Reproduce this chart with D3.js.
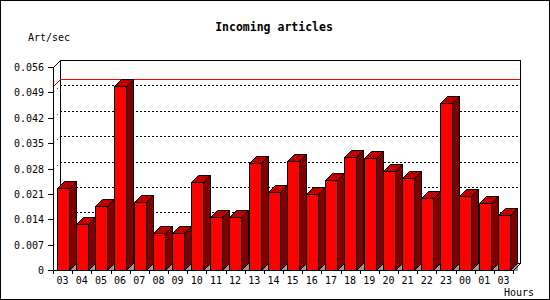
<!DOCTYPE html>
<html><head><meta charset="utf-8">
<script src="https://cdn.jsdelivr.net/npm/d3@7"></script>
<style>body{margin:0;background:#fff}svg{display:block}</style>
</head><body>
<script>
const categories = ["03","04","05","06","07","08","09","10","11","12","13","14","15","16","17","18","19","20","21","22","23","00","01","03"];
const values = [0.0225,0.0126,0.0176,0.0508,0.0187,0.0101,0.0101,0.0244,0.0145,0.0145,0.0294,0.0214,0.0302,0.0209,0.0247,0.0311,0.0308,0.0272,0.0253,0.0198,0.0462,0.0203,0.0184,0.0151];
const yTicks = [0,0.007,0.014,0.021,0.028,0.035,0.042,0.049,0.056];
const yTickLabels = ["0","0.007","0.014","0.021","0.028","0.035","0.042","0.049","0.056"];
const title = "Incoming articles";
const yTitle = "Art/sec";
const xTitle = "Hours";

const W = 550, H = 300, D = 7;
const font = "'DejaVu Sans Mono', monospace";
const svg = d3.select("body").append("svg").attr("width", W).attr("height", H);
svg.append("rect").attr("x",0).attr("y",0).attr("width",W).attr("height",H).attr("fill","#fff");

const y = d3.scaleLinear().domain([0, 0.056]).range([270, 67]);
const x = d3.scaleBand().domain(d3.range(categories.length)).range([53, 513]);
const bw = x.bandwidth() * 0.6;
const x0 = x.range()[0], x1 = x.range()[1];
const yb = y(0), yt = y(0.056);

const g = svg.append("g").attr("shape-rendering","crispEdges");

// back wall frame
g.append("rect").attr("x", x0 + D + 0.5).attr("y", yt - D + 0.5)
  .attr("width", x1 - x0).attr("height", yb - yt)
  .attr("fill","none").attr("stroke","#000");

// gridlines (back wall + left wall diagonal)
const grid = yTicks.filter(t => t > 0 && t < 0.056);
grid.forEach(t => {
  const yy = Math.round(y(t));
  g.append("line").attr("x1", x0 + D).attr("x2", x1 + D).attr("y1", yy - D + 0.5).attr("y2", yy - D + 0.5)
    .attr("stroke","#000").attr("stroke-dasharray","2,2");
  svg.append("line").attr("x1", x0 + 0.5).attr("y1", yy + 0.5).attr("x2", x0 + D + 0.5).attr("y2", yy - D + 0.5)
    .attr("stroke","#000").attr("stroke-dasharray","1,4");
});

// max line
const ym = Math.round(y(d3.max(values)));
svg.append("line").attr("x1", x0 + 0.5).attr("y1", ym + 0.5).attr("x2", x0 + D + 0.5).attr("y2", ym - D + 0.5).attr("stroke","#e00000");
g.append("line").attr("x1", x0 + D).attr("x2", x1 + D).attr("y1", ym - D + 0.5).attr("y2", ym - D + 0.5).attr("stroke","#ff0000");

// bars
const bars = svg.append("g");
values.forEach((v, i) => {
  const l = Math.round(x(i) + (x.bandwidth() - bw) / 2) + 0.5;
  const r = Math.round(l + bw);
  const r5 = r + 0.5;
  const top = Math.round(y(v)) + 0.5;
  const bot = yb + 0.5;
  bars.append("polygon").attr("points", `${r5},${bot} ${r5 + D},${bot - D} ${r5 + D},${bot}`)
    .attr("fill","#999").attr("stroke","#555").attr("stroke-width",0.5);
  bars.append("polygon").attr("points", `${r5},${top} ${r5 + D},${top - D} ${r5 + D},${bot - D} ${r5},${bot}`)
    .attr("fill","#800000").attr("stroke","#000");
  bars.append("polygon").attr("points", `${l},${top} ${l + D},${top - D} ${r5 + D},${top - D} ${r5},${top}`)
    .attr("fill","#c00000").attr("stroke","#000");
  bars.append("rect").attr("x", l).attr("y", top).attr("width", r5 - l).attr("height", bot - top)
    .attr("fill","#ff0000").attr("stroke","#000").attr("shape-rendering","crispEdges");
});

// front axes
const ax = svg.append("g").attr("shape-rendering","crispEdges");
ax.append("line").attr("x1", x0 + 0.5).attr("x2", x0 + 0.5).attr("y1", yt).attr("y2", yb + 1).attr("stroke","#000");
ax.append("line").attr("x1", x0).attr("x2", x1 + 0.5).attr("y1", yb + 0.5).attr("y2", yb + 0.5).attr("stroke","#000");
svg.append("line").attr("x1", x0 + 0.5).attr("y1", yt + 0.5).attr("x2", x0 + D + 0.5).attr("y2", yt - D + 0.5).attr("stroke","#000");
svg.append("line").attr("x1", x1 + 0.5).attr("y1", yb + 0.5).attr("x2", x1 + D + 0.5).attr("y2", yb - D + 0.5).attr("stroke","#000");

yTicks.forEach((t, i) => {
  const yy = Math.round(y(t));
  ax.append("line").attr("x1", x0 - 5).attr("x2", x0).attr("y1", yy + 0.5).attr("y2", yy + 0.5).attr("stroke","#000");
  svg.append("text").attr("x", 44).attr("y", yy + 4).attr("text-anchor","end")
    .attr("font-family", font).attr("font-size", 10).text(yTickLabels[i]);
});

d3.range(categories.length + 1).forEach(i => {
  const xx = Math.round(i < categories.length ? x(i) : x1) + 0.5;
  ax.append("line").attr("x1", xx).attr("x2", xx).attr("y1", yb).attr("y2", yb + 4).attr("stroke","#000");
});
categories.forEach((c, i) => {
  svg.append("text").attr("x", x(i) + x.bandwidth() / 2).attr("y", 284).attr("text-anchor","middle")
    .attr("font-family", font).attr("font-size", 10).text(c);
});

svg.append("text").attr("x", 274).attr("y", 31).attr("text-anchor","middle")
  .attr("font-family", font).attr("font-weight","bold").attr("font-size", 11.5).text(title);
svg.append("text").attr("x", 49).attr("y", 41).attr("text-anchor","middle")
  .attr("font-family", font).attr("font-size", 10).text(yTitle);
svg.append("text").attr("x", 534).attr("y", 296).attr("text-anchor","end")
  .attr("font-family", font).attr("font-size", 10).text(xTitle);

// outer border
svg.append("rect").attr("x",0.5).attr("y",0.5).attr("width",W-1).attr("height",H-1)
  .attr("fill","none").attr("stroke","#000").attr("shape-rendering","crispEdges");
</script>
</body></html>
